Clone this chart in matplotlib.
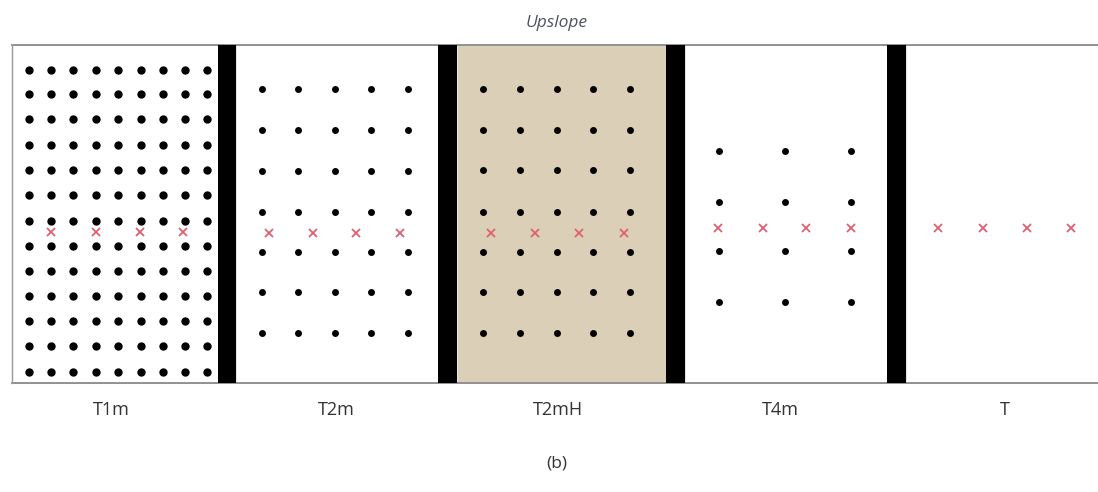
import matplotlib
matplotlib.use("Agg")
import matplotlib.pyplot as plt
from matplotlib.patches import Rectangle

# panel labels and layout (image pixel units, y downwards)
labels = ["T1m", "T2m", "T2mH", "T4m", "T"]
label_x = [111, 336, 558, 780, 1005]

# dot grids per panel: column positions and row positions
dot_cols = [
    [29, 51, 73, 96, 118, 141, 163, 185, 207],
    [262, 298, 335, 371, 408],
    [483, 520, 557, 593, 630],
    [719, 785, 851],
    [],
]
dot_rows = [
    [70, 94, 119, 145, 170, 195, 221, 246, 271, 296, 321, 346, 372],
    [89, 130, 171, 212, 252, 292, 333],
    [89, 130, 170, 212, 252, 292, 333],
    [151, 202, 251, 302],
    [],
]
dot_size = [6.0, 5.0, 5.0, 5.0, 5.0]

# red x marks per panel
mark_x = [
    [51, 96, 140, 183],
    [269, 313, 356, 400],
    [491, 535, 579, 624],
    [718, 763, 806, 851],
    [938, 983, 1027, 1071],
]
mark_y = [232, 233, 233, 228, 228]

# black separators between panels (left, right)
bars = [(218, 236), (438, 457), (666, 685), (887, 906)]
panel_edges = [(12, 218), (236, 438), (457, 666), (685, 887), (906, 1098)]
shaded = [False, False, True, False, False]

top, bottom = 45, 383

fig = plt.figure(figsize=(10.98, 4.92), dpi=100)
ax = fig.add_axes([0, 0, 1, 1])
ax.set_xlim(0, 1098)
ax.set_ylim(492, 0)
ax.axis("off")

# panel backgrounds + faint inner borders
for (x0, x1), sh in zip(panel_edges, shaded):
    ax.add_patch(Rectangle((x0, top), x1 - x0, bottom - top,
                           facecolor="#dbcfb7" if sh else "white",
                           edgecolor="#e4e4e4", lw=0.8, zorder=1))

# outer frame lines
ax.plot([12, 1098], [top, top], color="#8a8a8a", lw=1.3, zorder=3)
ax.plot([12, 1098], [bottom, bottom], color="#8a8a8a", lw=1.3, zorder=3)
ax.plot([12, 12], [top, bottom], color="#9a9a9a", lw=1.0, zorder=3)

# black separators
for x0, x1 in bars:
    ax.add_patch(Rectangle((x0, top), x1 - x0, bottom - top,
                           facecolor="black", edgecolor="none", zorder=4))

# dots and marks
for i in range(len(labels)):
    xs = [c for r in dot_rows[i] for c in dot_cols[i]]
    ys = [r for r in dot_rows[i] for c in dot_cols[i]]
    if xs:
        ax.plot(xs, ys, "o", color="black", ms=dot_size[i], mew=0, zorder=5)
    ax.plot(mark_x[i], [mark_y[i]] * len(mark_x[i]), "x", color="#e0606e",
            ms=5.2, mew=1.3, zorder=6)
    ax.text(label_x[i], 410, labels[i], ha="center", va="center",
            fontsize=13, color="#333333", family="Open Sans")

ax.text(557, 23, "Upslope", ha="center", va="center", fontsize=12.5,
        style="italic", color="#4b5360", family="Open Sans")
ax.text(557, 464, "(b)", ha="center", va="center", fontsize=12.5,
        color="#333333", family="Open Sans")

fig.savefig("out.png", dpi=100)
